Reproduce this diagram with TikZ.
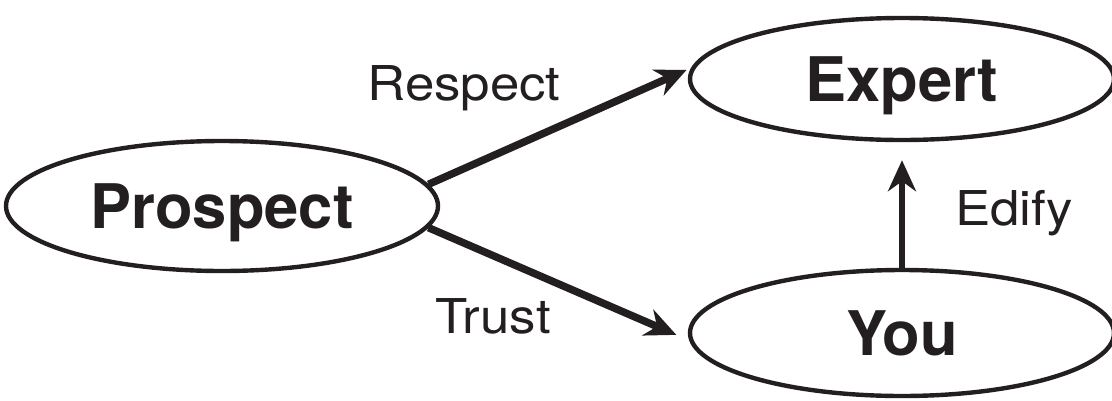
\documentclass[tikz,border=0pt]{standalone}
\usepackage{fontspec}
\setmainfont{TeX Gyre Heros}
\usetikzlibrary{shapes.geometric,arrows.meta}

\definecolor{ink}{HTML}{231F20}

\tikzset{
  role/.style={draw=ink, text=ink, ellipse, line width=4.4pt, inner sep=0pt,
    text height=44pt, text depth=0pt,
    font=\fontsize{61.5}{61.5}\selectfont\bfseries},
  link/.style={draw=ink, line width=7.5pt,
    -{Stealth[length=31pt, width=28pt, inset=10pt]}},
  lab/.style={anchor=base, inner sep=0pt, text=ink,
    font=\fontsize{48}{48}\selectfont}
}
\newcommand{\widen}[1]{\scalebox{1.1}[1]{#1}}

\begin{document}
\begin{tikzpicture}[x=1pt, y=-1pt]
  \useasboundingbox (0,0) rectangle (1112,400);

  % the three parties
  \node[role, minimum width=432pt, minimum height=130pt] (P) at (222,206) {Prospect};
  \node[role, minimum width=424pt, minimum height=122pt] (E) at (902,79) {Expert};
  \node[role, minimum width=424pt, minimum height=126pt] (Y) at (902,333) {You};

  % relations
  \draw[link, shorten >=5pt] (P.6) -- (E.177);
  \draw[link, shorten >=14pt] (P.-6) -- (Y.182);
  \draw[link, line width=6pt, shorten >=18pt] (Y.north) -- (E.south);

  % labels
  \node[lab] (respect) at (464,100) {\widen{Respect}};
  \node[lab] (trust) at (493,333) {\widen{Trust}};
  \node[lab] (edify) at (1014,225) {\widen{Edify}};
\end{tikzpicture}
\end{document}
